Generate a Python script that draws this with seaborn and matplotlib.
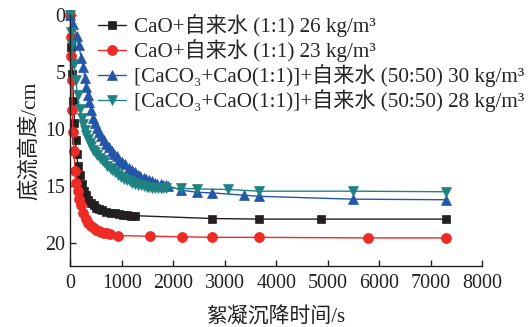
import numpy as np
import pandas as pd
import matplotlib
matplotlib.use("Agg")
import matplotlib.pyplot as plt
import seaborn as sns

# ---- data ----
labels = [
    "CaO+自来水 (1:1) 26 kg/m³",
    "CaO+自来水 (1:1) 23 kg/m³",
    "[CaCO₃+CaO(1:1)]+自来水 (50:50) 30 kg/m³",
    "[CaCO₃+CaO(1:1)]+自来水 (50:50) 28 kg/m³",
]

t_black = [0, 20, 40, 60, 80, 100, 120, 150, 180, 220, 260, 300, 350, 400, 450, 500,
           560, 620, 700, 780, 860, 940, 1020, 1100, 1180, 1260, 2750, 3660, 4870, 7300]
h_black = [0, 2.8, 5.2, 7.5, 9.5, 11.0, 12.2, 13.2, 14.0, 14.8, 15.4, 15.8, 16.2, 16.5, 16.7, 16.9,
           17.0, 17.1, 17.25, 17.35, 17.4, 17.45, 17.5, 17.55, 17.6, 17.6, 17.85, 17.9, 17.9, 17.9]

t_red = [0, 8, 15, 25, 35, 50, 70, 90, 110, 140, 170, 200, 250, 300, 350, 400, 450, 500,
         550, 600, 660, 720, 777, 932, 1553, 2175, 2757, 3670, 5786, 7300]
h_red = [0, 1.9, 3.6, 5.7, 8.3, 10.3, 11.9, 13.7, 14.7, 15.4, 16.1, 16.7, 17.4, 17.9, 18.2, 18.5, 18.7, 18.85,
         18.95, 19.05, 19.1, 19.15, 19.2, 19.35, 19.4, 19.45, 19.5, 19.5, 19.55, 19.55]

t_blue = [0, 60, 120, 160, 215, 250, 280, 310, 340, 370, 400, 435, 470, 510, 555, 600, 650, 700, 750,
          800, 850, 900, 950, 1000, 1060, 1130, 1190, 1250, 1310, 1360, 1420, 1470, 1530, 1580, 1640,
          1690, 1750, 1800, 1850, 1900, 2140, 2460, 2750, 3365, 3660, 5480, 7300]
h_blue = [0, 0.8, 1.8, 2.6, 3.8, 4.6, 5.5, 6.3, 7.0, 7.6, 8.3, 9.0, 9.5, 9.9, 10.3, 10.6, 11.0, 11.3, 11.6,
          11.9, 12.2, 12.4, 12.7, 12.9, 13.1, 13.4, 13.6, 13.8, 14.0, 14.1, 14.3, 14.4, 14.5, 14.6, 14.7,
          14.8, 14.85, 14.9, 14.95, 15.0, 15.35, 15.55, 15.6, 15.8, 15.9, 16.15, 16.2]

t_teal = [0, 20, 40, 70, 100, 140, 180, 220, 250, 280, 310, 340, 375, 410, 445, 480, 525, 570, 615,
          660, 710, 760, 810, 860, 920, 990, 1050, 1100, 1150, 1200, 1260, 1310, 1370, 1420, 1480,
          1530, 1590, 1640, 1700, 1750, 1800, 1860, 2140, 2460, 3055, 3660, 5480, 7300]
h_teal = [0, 1.5, 2.6, 4.3, 5.7, 7.0, 8.2, 9.0, 9.6, 10.1, 10.5, 10.9, 11.2, 11.5, 11.8, 12.0, 12.3, 12.5, 12.7,
          12.9, 13.2, 13.4, 13.6, 13.8, 14.0, 14.2, 14.35, 14.5, 14.6, 14.7, 14.8, 14.9, 14.95, 15.0, 15.05,
          15.1, 15.15, 15.2, 15.2, 15.2, 15.2, 15.2, 15.2, 15.25, 15.3, 15.45, 15.45, 15.5]

x_ticks = [0, 1000, 2000, 3000, 4000, 5000, 6000, 7000, 8000]
y_ticks = [0, 5, 10, 15, 20]

series = [
    (t_black, h_black, "#231f20", "s", 6.0),
    (t_red, h_red, "#ee2a24", "o", 7.2),
    (t_blue, h_blue, "#2356a8", "^", 7.8),
    (t_teal, h_teal, "#1f8282", "v", 7.8),
]

sns.set_theme(style="ticks")
plt.rcParams["font.family"] = ["Liberation Serif", "Noto Sans CJK SC", "DejaVu Serif"]

fig = plt.figure(figsize=(5.29, 3.27), dpi=100)
ax = fig.add_axes([0.133, 0.187, 0.779, 0.767])

for (t, h, c, m, ms), lab in zip(series, labels):
    df = pd.DataFrame({"t": t, "h": h})
    sns.lineplot(data=df, x="t", y="h", ax=ax, color=c, marker=m, markersize=ms,
                 markeredgecolor=c, markeredgewidth=0.5, linewidth=1.0,
                 sort=False, estimator=None, label=lab, clip_on=False)

ax.set_xlim(0, 8000)
ax.set_ylim(22, 0)
ax.set_xticks(x_ticks)
ax.set_yticks(y_ticks)
ax.tick_params(direction="in", length=4, width=1, labelsize=14.4, colors="#231f20",
               labelcolor="#231f20")
ax.tick_params(axis="x", pad=6)
for side in ["top", "right"]:
    ax.spines[side].set_visible(False)
for side in ["left", "bottom"]:
    ax.spines[side].set_linewidth(1.0)
    ax.spines[side].set_color("#231f20")

ax.set_xlabel("絮凝沉降时间/s", fontsize=15, color="#231f20", labelpad=10)
ax.set_ylabel("底流高度/cm", fontsize=15.5, color="#231f20", labelpad=4)

leg = ax.legend(loc="upper left", bbox_to_anchor=(0.068, 1.003), frameon=False,
                fontsize=15.2, handlelength=1.3, handletextpad=0.4, labelspacing=0.1,
                borderaxespad=0, borderpad=0)

fig.savefig("out.png", dpi=100)
